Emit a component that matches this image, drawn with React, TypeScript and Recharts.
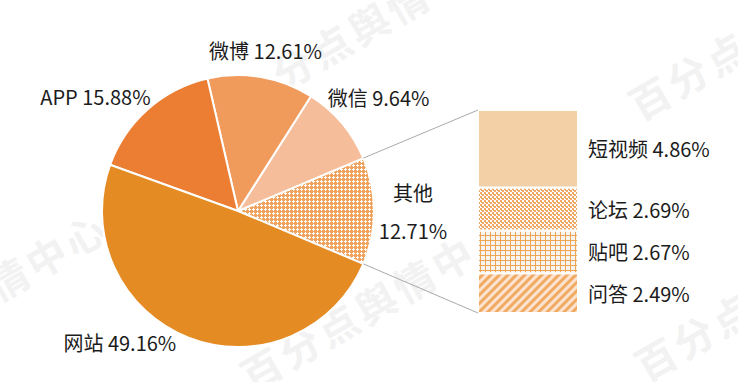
import React from 'react';
import { PieChart, Pie, Cell, BarChart, Bar, XAxis, YAxis, LabelList } from 'recharts';

// main pie, counter-clockwise from the right-hand side
const pieNames = ['其他', '微信', '微博', 'APP', '网站'];
const pieValues = [12.71, 9.64, 12.61, 15.88, 49.16];
const pieFills = ['url(#patOther)', '#F5BD99', '#F09A5C', '#EC7E33', '#E48B23'];

// breakdown of 其他, bottom to top
const subNames = ['问答', '贴吧', '论坛', '短视频'];
const subValues = [2.49, 2.67, 2.69, 4.86];
const subFills = ['url(#patStripe)', 'url(#patGrid)', 'url(#patCheck)', '#F3D0A6'];

const watermark = '百分点舆情中心';

const W = 738;
const H = 382;
const CX = 238;
const CY = 211;
const R = 136;
const RADIAN = Math.PI / 180;
const FONT = '"Noto Sans CJK SC", "Noto Sans", sans-serif';
const TEXT = '#1c1c1c';

const pieData = pieNames.map((name, i) => ({ name, value: pieValues[i] }));
const subRow: Record<string, any> = { name: '其他' };
subNames.forEach((n, i) => (subRow[n] = subValues[i]));
const barData = [subRow];

const otherHalf = (pieValues[0] * 3.6) / 2;
const startAngle = -otherHalf;

// label placement tweaks (angle shift from slice middle, distance from centre)
const labelPlace: Record<string, { da: number; r: number }> = {
  其他: { da: 0, r: 175 },
  微信: { da: -1.2, r: 181 },
  微博: { da: 0, r: 163 },
  APP: { da: 9.6, r: 183 },
  网站: { da: -20.5, r: 177 },
};

const pieEdge = (deg: number) => ({
  x: CX + R * Math.cos(deg * RADIAN),
  y: CY - R * Math.sin(deg * RADIAN),
});

const renderPieLabel = (props: any) => {
  const { midAngle, name, value } = props;
  const p = labelPlace[name] || { da: 0, r: 175 };
  const a = (midAngle + p.da) * RADIAN;
  const x = CX + p.r * Math.cos(a);
  const y = CY - p.r * Math.sin(a);
  const pct = `${Number(value).toFixed(2)}%`;
  if (name === '其他') {
    return (
      <text x={x} y={y} textAnchor="middle" fontSize={20} fontFamily={FONT} fill={TEXT}>
        <tspan x={x} y={y - 19} dominantBaseline="central">{name}</tspan>
        <tspan x={x} y={y + 19} dominantBaseline="central">{pct}</tspan>
      </text>
    );
  }
  return (
    <text x={x} y={y} textAnchor="middle" dominantBaseline="central" fontSize={20} fontFamily={FONT} fill={TEXT}>
      {`${name} ${pct}`}
    </text>
  );
};

const makeBarLabel = (name: string, idx: number) => (props: any) => {
  const { x, y, width, height, value } = props;
  const top = idx === subNames.length - 1;
  const bottom = idx === 0;
  const up = pieEdge(otherHalf);
  const down = pieEdge(-otherHalf);
  return (
    <g>
      {top && <line x1={up.x} y1={up.y} x2={x} y2={y} stroke="#AAAAAA" strokeWidth={1} />}
      {bottom && <line x1={down.x} y1={down.y} x2={x} y2={y + height} stroke="#AAAAAA" strokeWidth={1} />}
      <text
        x={x + width + 10}
        y={y + height / 2}
        dominantBaseline="central"
        fontSize={20}
        fontFamily={FONT}
        fill={TEXT}
      >
        {`${name} ${Number(value).toFixed(2)}%`}
      </text>
    </g>
  );
};

// watermark copies: centre of the full string + which characters are visible
const marks = [
  { x: 377, y: 301, from: 0, to: 5 },
  { x: 370, y: 22, from: 1, to: 4 },
  { x: -29, y: 299, from: 4, to: 6 },
  { x: 765, y: 30, from: 0, to: 2 },
  { x: 771, y: 291, from: 0, to: 2 },
];
const STEP = { x: 38.1, y: -22 };

export default function App() {
  return (
    <div style={{ position: 'absolute', left: 0, top: 0, width: W, height: H, background: '#fff', overflow: 'hidden' }}>
      <svg width={W} height={H} style={{ position: 'absolute', left: 0, top: 0 }}>
        {marks.map((m, i) => {
          const k = (m.from + m.to) / 2 - 3;
          const x = m.x + k * STEP.x;
          const y = m.y + k * STEP.y;
          return (
            <text
              key={i}
              x={x}
              y={y}
              textAnchor="middle"
              dominantBaseline="central"
              fontSize={40}
              fontWeight={700}
              letterSpacing={4}
              fontFamily={FONT}
              fill="#f2f2f2"
              transform={`rotate(-30 ${x} ${y})`}
            >
              {watermark.slice(m.from, m.to + 1)}
            </text>
          );
        })}
      </svg>

      <div style={{ position: 'absolute', left: 0, top: 0 }}>
        <PieChart width={W} height={H} margin={{ top: 0, right: 0, bottom: 0, left: 0 }}>
          <defs>
            <pattern id="patOther" width={4} height={4} patternUnits="userSpaceOnUse">
              <rect width={4} height={4} fill="#F0A35E" />
              <rect x={1} y={0} width={1} height={3} fill="#fff" />
              <rect x={0} y={1} width={3} height={1} fill="#fff" />
            </pattern>
          </defs>
          <Pie
            data={pieData}
            dataKey="value"
            nameKey="name"
            cx={CX}
            cy={CY}
            outerRadius={R}
            startAngle={startAngle}
            endAngle={startAngle + 360}
            stroke="#fff"
            strokeWidth={2}
            label={renderPieLabel}
            labelLine={false}
            isAnimationActive={false}
          >
            {pieData.map((d, i) => (
              <Cell key={d.name} fill={pieFills[i]} />
            ))}
          </Pie>
        </PieChart>
      </div>

      <div style={{ position: 'absolute', left: 0, top: 0 }}>
        <BarChart
          width={W}
          height={H}
          data={barData}
          margin={{ top: 110, right: 160, bottom: 69, left: 478 }}
          barCategoryGap={0}
        >
          <defs>
            <pattern id="patCheck" width={4} height={4} patternUnits="userSpaceOnUse">
              <rect width={4} height={4} fill="#fff" />
              <rect x={0} y={0} width={2} height={2} fill="#F2A865" />
              <rect x={2} y={2} width={2} height={2} fill="#F2A865" />
              <rect x={1} y={2} width={1} height={1} fill="#F2A865" />
            </pattern>
            <pattern id="patGrid" width={5} height={5} patternUnits="userSpaceOnUse">
              <rect width={5} height={5} fill="#F7F3EE" />
              <rect x={0} y={0} width={1} height={5} fill="#EDA553" />
              <rect x={0} y={0} width={5} height={1} fill="#EDA553" />
            </pattern>
            <pattern id="patStripe" width={6} height={6} patternUnits="userSpaceOnUse" patternTransform="rotate(45)">
              <rect width={6} height={6} fill="#FCE3D0" />
              <rect x={0} y={0} width={3} height={6} fill="#F0AA62" />
            </pattern>
          </defs>
          <XAxis dataKey="name" type="category" hide />
          <YAxis type="number" domain={[0, 'dataMax']} hide />
          {subNames.map((n, i) => (
            <Bar
              key={n}
              dataKey={n}
              stackId="other"
              fill={subFills[i]}
              stroke="#fff"
              strokeWidth={2}
              isAnimationActive={false}
            >
              <LabelList dataKey={n} content={makeBarLabel(n, i)} />
            </Bar>
          ))}
        </BarChart>
      </div>
    </div>
  );
}
